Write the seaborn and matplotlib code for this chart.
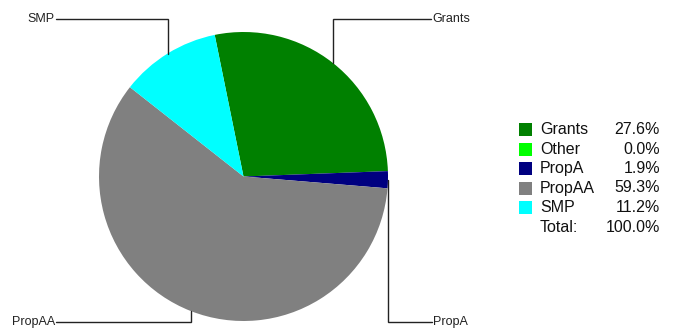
import numpy as np
import matplotlib
matplotlib.use("Agg")
import matplotlib.pyplot as plt
from matplotlib.patches import Rectangle
import seaborn as sns

# data
categories = ["Grants", "Other", "PropA", "PropAA", "SMP"]
shares = [27.6, 0.0, 1.9, 59.3, 11.2]
colors = ["#008000", "#00ff00", "#000080", "#808080", "#00ffff"]
total_label = "100.0%"

sns.set_theme(style="white")
plt.rcParams["font.family"] = ["Liberation Sans", "DejaVu Sans"]

W, H = 676, 329
fig = plt.figure(figsize=(W / 100, H / 100), dpi=100)
ax = fig.add_axes([0, 0, 1, 1])

cx, cy, r = 243.5, H - 176.5, 144.5
start = 101.5
wedges, _ = ax.pie(shares, colors=colors, startangle=start, counterclock=False,
                   radius=r, center=(cx, cy), frame=True,
                   wedgeprops=dict(linewidth=0))
ax.set_xlim(0, W)
ax.set_ylim(0, H)
ax.set_aspect("auto")
ax.axis("off")

# leader lines + labels (anchor at middle of each wedge edge)
label_pos = {
    "Grants": (431, 19, "left"),
    "SMP": (56, 19, "right"),
    "PropAA": (56, 322, "right"),
    "PropA": (432, 322, "left"),
}
for w, name in zip(wedges, categories):
    if name not in label_pos:
        continue
    mid = np.deg2rad((w.theta1 + w.theta2) / 2)
    px, py = cx + r * np.cos(mid), cy + r * np.sin(mid)
    tx, ty, ha = label_pos[name]
    ty = H - ty
    ax.plot([px, px, tx], [py, ty, ty], color="#222222", lw=1, solid_joinstyle="miter")
    ax.text(tx + (1 if ha == "left" else -1), ty, name, ha=ha, va="center",
            fontsize=9, color="#222222")

# legend with percentages
y0, dy = 129.5, 19.5
for i, (name, val, c) in enumerate(zip(categories, shares, colors)):
    y = H - (y0 + i * dy)
    ax.add_patch(Rectangle((519, y - 6.5), 13, 13, color=c, lw=0))
    ax.text(540, y, name, ha="left", va="center", fontsize=11.5, color="#111111")
    ax.text(660, y, f"{val:.1f}%", ha="right", va="center", fontsize=11.5, color="#111111")
y = H - (y0 + len(categories) * dy)
ax.text(540, y, "Total:", ha="left", va="center", fontsize=11.5, color="#111111")
ax.text(660, y, total_label, ha="right", va="center", fontsize=11.5, color="#111111")

fig.savefig("out.png", dpi=100)
